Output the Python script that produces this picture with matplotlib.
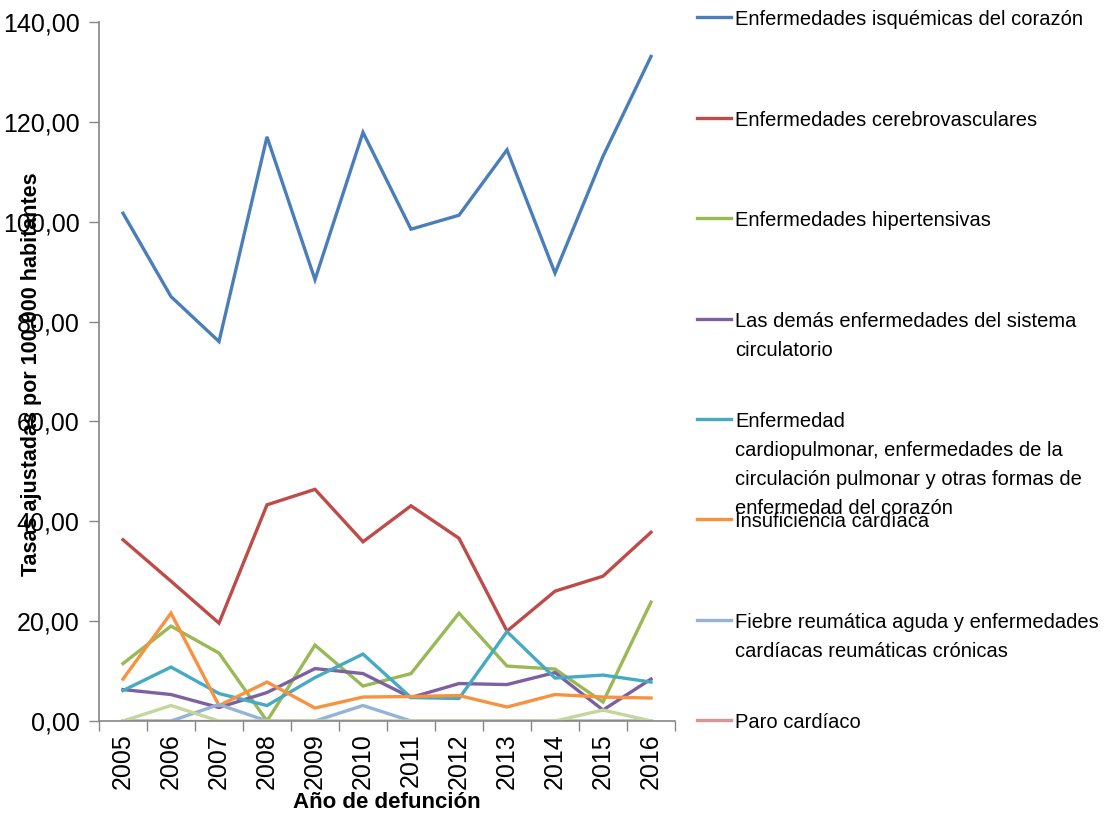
import matplotlib
matplotlib.use("Agg")
import matplotlib.pyplot as plt
from matplotlib import font_manager
from matplotlib.lines import Line2D

# Data
years = ["2005", "2006", "2007", "2008", "2009", "2010",
         "2011", "2012", "2013", "2014", "2015", "2016"]

isquemicas = [101.7, 85.0, 76.0, 117.0, 88.4, 117.9, 98.5, 101.3, 114.4, 89.7, 113.1, 133.1]
cerebro = [36.3, 28.0, 19.6, 43.3, 46.4, 35.9, 43.1, 36.6, 18.0, 26.0, 29.0, 37.8]
hipertensivas = [11.5, 19.0, 13.6, 0.0, 15.2, 7.0, 9.5, 21.6, 11.0, 10.4, 3.8, 23.8]
demas = [6.3, 5.3, 2.7, 5.7, 10.5, 9.5, 4.7, 7.5, 7.3, 9.7, 2.2, 8.4]
cardiopulmonar = [6.1, 10.8, 5.5, 3.1, 8.7, 13.4, 4.7, 4.5, 17.9, 8.6, 9.2, 7.8]
insuficiencia = [8.4, 21.6, 3.1, 7.8, 2.6, 4.8, 4.9, 5.1, 2.8, 5.3, 4.8, 4.6]
fiebre = [0.0, 0.0, 3.3, 0.0, 0.0, 3.1, 0.0, 0.0, 0.0, 0.0, 0.0, 0.0]
paro = [0.0] * 12
otras = [0.0, 3.1, 0.0, 0.0, 0.0, 0.0, 0.0, 0.0, 0.0, 0.0, 2.2, 0.0]

labels = [
    "Enfermedades isquémicas del corazón",
    "Enfermedades cerebrovasculares",
    "Enfermedades hipertensivas",
    "Las demás enfermedades del sistema\ncirculatorio",
    "Enfermedad\ncardiopulmonar, enfermedades de la\ncirculación pulmonar y otras formas de\nenfermedad del corazón",
    "Insuficiencia cardíaca",
    "Fiebre reumática aguda y enfermedades\ncardíacas reumáticas crónicas",
    "Paro cardíaco",
]
colors = ["#4A7EBB", "#BE4B48", "#98B954", "#7D60A0", "#46AAC5",
          "#F69240", "#95B3D7", "#D99694", "#C3D69B"]
series = [isquemicas, cerebro, hipertensivas, demas, cardiopulmonar,
          insuficiencia, fiebre, paro, otras]

# fonts: narrow face for legend / axis titles if present
names = {f.name for f in font_manager.fontManager.ttflist}
if "Liberation Sans Narrow" in names:
    narrow = "Liberation Sans Narrow"
    leg_size, title_size, xt_size = 17.5, 18.5, 19
else:
    narrow = "Liberation Sans"
    leg_size, title_size, xt_size = 14.5, 15.5, 16
plt.rcParams["font.family"] = ["Liberation Sans", "DejaVu Sans"]

W, H = 1105, 819
fig = plt.figure(figsize=(W / 100, H / 100), dpi=100)
ax = fig.add_axes([99 / W, 1 - 721 / H, 576 / W, 699 / H])

x = list(range(len(years)))
for vals, c in zip(series, colors):
    ax.plot(x, vals, color=c, lw=2.4, solid_joinstyle="miter")

ax.set_xlim(-0.5, len(years) - 0.5)
ax.set_ylim(0, 140)
ax.set_yticks(range(0, 141, 20))
ax.set_yticklabels([f"{v},00" for v in range(0, 141, 20)], fontsize=18)

# category ticks between categories, labels at the centers
ax.set_xticks([i - 0.5 for i in range(len(years) + 1)])
ax.set_xticklabels([])
ax.set_xticks(x, minor=True)
ax.set_xticklabels(years, minor=True, rotation=90, fontsize=18)
ax.tick_params(axis="x", which="minor", length=0, pad=9)
ax.tick_params(axis="x", which="major", length=7, color="#868686", width=1)
ax.tick_params(axis="y", length=7, color="#868686", width=1, pad=7)

for s in ["top", "right"]:
    ax.spines[s].set_visible(False)
for s in ["left", "bottom"]:
    ax.spines[s].set_color("#868686")
    ax.spines[s].set_linewidth(1.2)

fig.text(32 / W, 1 - 374 / H, "Tasas ajustadas por 100.000 habitantes",
         rotation=90, ha="center", va="center", fontsize=title_size,
         fontweight="bold", family=[narrow, "Liberation Sans"])
fig.text(387 / W, 1 - 803 / H, "Año de defunción", ha="center", va="center",
         fontsize=xt_size, fontweight="bold", family=[narrow, "Liberation Sans"])

# legend drawn with fixed spacing like the original
for i, (lab, c) in enumerate(zip(labels, colors)):
    ly = 17.3 + i * 100.4
    fig.add_artist(Line2D([697 / W, 731 / W], [1 - ly / H, 1 - ly / H],
                          color=c, lw=2.4, transform=fig.transFigure))
    for k, line in enumerate(lab.split("\n")):
        by = ly + 8 + k * 29
        fig.text(735 / W, 1 - by / H, line, ha="left", va="baseline",
                 fontsize=leg_size, family=[narrow, "Liberation Sans"])

fig.savefig("out.png", dpi=100)
